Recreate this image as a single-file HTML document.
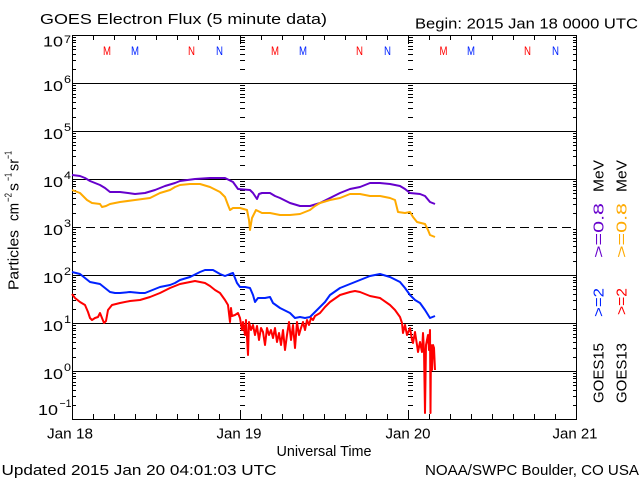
<!DOCTYPE html>
<html><head><meta charset="utf-8"><style>
html,body{margin:0;padding:0;background:#fff;}
svg{display:block;}
text{font-family:"Liberation Sans",sans-serif;fill:#000;}
</style></head><body>
<svg width="640" height="480" viewBox="0 0 640 480" xmlns="http://www.w3.org/2000/svg">
<rect width="640" height="480" fill="#fff"/>

<!-- titles -->
<text x="40" y="24" font-size="15" textLength="287" lengthAdjust="spacingAndGlyphs">GOES Electron Flux (5 minute data)</text>
<text x="415" y="28.5" font-size="15" textLength="223" lengthAdjust="spacingAndGlyphs">Begin: 2015 Jan 18 0000 UTC</text>

<!-- grid -->
<g stroke="#000" stroke-width="1" fill="none">
<path d="M72 83.5H577M72 131.5H577M72 179.5H577M72 275.5H577M72 323.5H577M72 371.5H577"/>
<path d="M72 227.5H577" stroke-dasharray="9 5"/>
<rect x="72.5" y="35.5" width="504" height="384"/>
<!-- minor ticks left, day lines, right -->
<path d="M0 69.5h1M0 60.5h1M0 54.5h1M0 49.5h1M0 46.5h1M0 42.5h1M0 40.5h1M0 37.5h1
M0 117.5h1M0 108.5h1M0 102.5h1M0 97.5h1M0 94.5h1M0 90.5h1M0 88.5h1M0 85.5h1
M0 165.5h1M0 156.5h1M0 150.5h1M0 145.5h1M0 142.5h1M0 138.5h1M0 136.5h1M0 133.5h1
M0 213.5h1M0 204.5h1M0 198.5h1M0 193.5h1M0 190.5h1M0 186.5h1M0 184.5h1M0 181.5h1
M0 261.5h1M0 252.5h1M0 246.5h1M0 241.5h1M0 238.5h1M0 234.5h1M0 232.5h1M0 229.5h1
M0 309.5h1M0 300.5h1M0 294.5h1M0 289.5h1M0 286.5h1M0 282.5h1M0 280.5h1M0 277.5h1
M0 357.5h1M0 348.5h1M0 342.5h1M0 337.5h1M0 334.5h1M0 330.5h1M0 328.5h1M0 325.5h1
M0 405.5h1M0 396.5h1M0 390.5h1M0 385.5h1M0 382.5h1M0 378.5h1M0 376.5h1M0 373.5h1" transform="translate(72,0) scale(4,1)"/>
<path d="M0 69.5h1M0 60.5h1M0 54.5h1M0 49.5h1M0 46.5h1M0 42.5h1M0 40.5h1M0 37.5h1
M0 117.5h1M0 108.5h1M0 102.5h1M0 97.5h1M0 94.5h1M0 90.5h1M0 88.5h1M0 85.5h1
M0 165.5h1M0 156.5h1M0 150.5h1M0 145.5h1M0 142.5h1M0 138.5h1M0 136.5h1M0 133.5h1
M0 213.5h1M0 204.5h1M0 198.5h1M0 193.5h1M0 190.5h1M0 186.5h1M0 184.5h1M0 181.5h1
M0 261.5h1M0 252.5h1M0 246.5h1M0 241.5h1M0 238.5h1M0 234.5h1M0 232.5h1M0 229.5h1
M0 309.5h1M0 300.5h1M0 294.5h1M0 289.5h1M0 286.5h1M0 282.5h1M0 280.5h1M0 277.5h1
M0 357.5h1M0 348.5h1M0 342.5h1M0 337.5h1M0 334.5h1M0 330.5h1M0 328.5h1M0 325.5h1
M0 405.5h1M0 396.5h1M0 390.5h1M0 385.5h1M0 382.5h1M0 378.5h1M0 376.5h1M0 373.5h1" transform="translate(240,0) scale(5,1)"/>
<path d="M0 69.5h1M0 60.5h1M0 54.5h1M0 49.5h1M0 46.5h1M0 42.5h1M0 40.5h1M0 37.5h1
M0 117.5h1M0 108.5h1M0 102.5h1M0 97.5h1M0 94.5h1M0 90.5h1M0 88.5h1M0 85.5h1
M0 165.5h1M0 156.5h1M0 150.5h1M0 145.5h1M0 142.5h1M0 138.5h1M0 136.5h1M0 133.5h1
M0 213.5h1M0 204.5h1M0 198.5h1M0 193.5h1M0 190.5h1M0 186.5h1M0 184.5h1M0 181.5h1
M0 261.5h1M0 252.5h1M0 246.5h1M0 241.5h1M0 238.5h1M0 234.5h1M0 232.5h1M0 229.5h1
M0 309.5h1M0 300.5h1M0 294.5h1M0 289.5h1M0 286.5h1M0 282.5h1M0 280.5h1M0 277.5h1
M0 357.5h1M0 348.5h1M0 342.5h1M0 337.5h1M0 334.5h1M0 330.5h1M0 328.5h1M0 325.5h1
M0 405.5h1M0 396.5h1M0 390.5h1M0 385.5h1M0 382.5h1M0 378.5h1M0 376.5h1M0 373.5h1" transform="translate(408,0) scale(5,1)"/>
<path d="M0 69.5h1M0 60.5h1M0 54.5h1M0 49.5h1M0 46.5h1M0 42.5h1M0 40.5h1M0 37.5h1
M0 117.5h1M0 108.5h1M0 102.5h1M0 97.5h1M0 94.5h1M0 90.5h1M0 88.5h1M0 85.5h1
M0 165.5h1M0 156.5h1M0 150.5h1M0 145.5h1M0 142.5h1M0 138.5h1M0 136.5h1M0 133.5h1
M0 213.5h1M0 204.5h1M0 198.5h1M0 193.5h1M0 190.5h1M0 186.5h1M0 184.5h1M0 181.5h1
M0 261.5h1M0 252.5h1M0 246.5h1M0 241.5h1M0 238.5h1M0 234.5h1M0 232.5h1M0 229.5h1
M0 309.5h1M0 300.5h1M0 294.5h1M0 289.5h1M0 286.5h1M0 282.5h1M0 280.5h1M0 277.5h1
M0 357.5h1M0 348.5h1M0 342.5h1M0 337.5h1M0 334.5h1M0 330.5h1M0 328.5h1M0 325.5h1
M0 405.5h1M0 396.5h1M0 390.5h1M0 385.5h1M0 382.5h1M0 378.5h1M0 376.5h1M0 373.5h1" transform="translate(573,0) scale(4,1)"/>
<!-- major ticks left -->
<path d="M72 35.5h8M72 83.5h8M72 131.5h8M72 179.5h8M72 227.5h8M72 275.5h8M72 323.5h8M72 371.5h8M72 419.5h8"/>
<!-- top / bottom time ticks -->
<path d="M93.5 35v5M114.5 35v5M135.5 35v5M156.5 35v5M177.5 35v5M198.5 35v5M219.5 35v5M240.5 35v9M261.5 35v5M282.5 35v5M303.5 35v5M324.5 35v5M345.5 35v5M366.5 35v5M387.5 35v5M408.5 35v9M429.5 35v5M450.5 35v5M471.5 35v5M492.5 35v5M513.5 35v5M534.5 35v5M555.5 35v5"/>
<path d="M93.5 419v-5M114.5 419v-5M135.5 419v-5M156.5 419v-5M177.5 419v-5M198.5 419v-5M219.5 419v-5M240.5 419v-9M261.5 419v-5M282.5 419v-5M303.5 419v-5M324.5 419v-5M345.5 419v-5M366.5 419v-5M387.5 419v-5M408.5 419v-9M429.5 419v-5M450.5 419v-5M471.5 419v-5M492.5 419v-5M513.5 419v-5M534.5 419v-5M555.5 419v-5"/>
</g>

<!-- M / N markers -->
<g font-size="12" text-anchor="middle">
<text x="107" y="55" style="fill:#ff0000" textLength="8" lengthAdjust="spacingAndGlyphs">M</text>
<text x="135" y="55" style="fill:#0022ff" textLength="8" lengthAdjust="spacingAndGlyphs">M</text>
<text x="191.5" y="55" style="fill:#ff0000" textLength="7" lengthAdjust="spacingAndGlyphs">N</text>
<text x="219.5" y="55" style="fill:#0022ff" textLength="7" lengthAdjust="spacingAndGlyphs">N</text>
<text x="275" y="55" style="fill:#ff0000" textLength="8" lengthAdjust="spacingAndGlyphs">M</text>
<text x="303" y="55" style="fill:#0022ff" textLength="8" lengthAdjust="spacingAndGlyphs">M</text>
<text x="359.5" y="55" style="fill:#ff0000" textLength="7" lengthAdjust="spacingAndGlyphs">N</text>
<text x="387.5" y="55" style="fill:#0022ff" textLength="7" lengthAdjust="spacingAndGlyphs">N</text>
<text x="443.5" y="55" style="fill:#ff0000" textLength="8" lengthAdjust="spacingAndGlyphs">M</text>
<text x="471" y="55" style="fill:#0022ff" textLength="8" lengthAdjust="spacingAndGlyphs">M</text>
<text x="527.5" y="55" style="fill:#ff0000" textLength="7" lengthAdjust="spacingAndGlyphs">N</text>
<text x="555.5" y="55" style="fill:#0022ff" textLength="7" lengthAdjust="spacingAndGlyphs">N</text>
</g>

<!-- data -->
<g fill="none" stroke-width="2" stroke-linejoin="round">
<polyline stroke="#6600cc" points="72,175 80,176 85,178 90,181 100,185 105,188 110,192 120,192 128,193 135,194 145,193 155,190 165,186 175,183 180,181 195,179 210,178 225,178 233,182 238,189 250,190 253,193 257,199 259,194 262,193 270,193 275,196 280,198 290,203 300,206 310,206 320,203 330,198 340,193 350,189 360,187 370,183 380,183 390,184 400,186 405,189 410,193 420,194 425,196 430,202 435,204"/>
<polyline stroke="#ffaa00" points="72,190 80,193 87,200 92,203 100,204 102,207 106,206 110,204 115,203 120,202 135,200 150,198 160,193 170,190 175,187 180,185 190,184 200,184 210,187 220,192 225,197 228,205 230,210 233,208 240,208 247,210 249,220 250,230 252,218 256,210 258,211 262,213 270,213 280,215 290,215 300,214 305,212 310,210 315,206 320,203 330,200 340,198 350,194 360,194 370,196 380,196 390,198 395,200 398,212 405,213 410,212 413,217 417,222 425,224 428,230 430,235 435,237"/>
<polyline stroke="#0022ff" points="72,272 80,274 85,278 90,282 100,284 105,288 110,292 115,293 120,293 130,292 140,293 145,293 150,291 160,287 170,285 175,283 180,280 190,277 200,272 205,270 213,270 220,274 225,276 230,274 233,273 237,283 240,287 245,287 250,288 253,295 255,302 258,298 265,298 270,297 273,303 280,308 290,313 295,318 300,317 305,318 310,317 320,307 325,302 330,295 340,288 350,284 360,280 370,276 380,274 390,277 400,282 405,288 410,295 415,300 420,303 425,310 430,318 435,316"/>
<polyline stroke="#ff0000" points="72,294 75,298 80,302 85,305 88,312 90,318 92,320 95,318 98,317 100,313 102,318 104,323 106,321 108,310 112,305 120,303 130,301 140,300 150,297 160,293 170,288 180,284 190,282 195,281 205,283 210,286 215,290 220,293 225,300 228,305 230,322 231,308 232,316 235,315 238,313 240,318 242,330 243,322 245,335 246,320 248,355 249,322 251,330 253,325 255,335 257,326 259,340 261,328 263,332 265,345 267,328 269,335 271,330 273,338 275,328 277,342 279,333 281,345 283,330 285,350 287,335 289,322 291,340 293,325 295,348 297,322 299,335 301,328 303,322 305,330 307,320 309,325 311,318 313,320 315,316 320,313 325,307 330,302 340,295 350,292 355,291 360,292 370,296 380,298 390,305 395,310 400,317 402,323 403,333 405,325 407,335 410,328 412,340 413,343 415,332 417,345 418,352 420,342 422,352 423,333 424,350 425,413 426,345 428,335 429,350 430,330 430.5,413 431,345 432,370 433,345 434,348 435,370"/>
</g>

<!-- y tick labels -->
<g font-size="15">
<text x="43" y="46.5" textLength="20" lengthAdjust="spacingAndGlyphs">10</text>
<text x="43" y="91" textLength="20" lengthAdjust="spacingAndGlyphs">10</text>
<text x="43" y="139" textLength="20" lengthAdjust="spacingAndGlyphs">10</text>
<text x="43" y="187" textLength="20" lengthAdjust="spacingAndGlyphs">10</text>
<text x="43" y="235" textLength="20" lengthAdjust="spacingAndGlyphs">10</text>
<text x="43" y="283" textLength="20" lengthAdjust="spacingAndGlyphs">10</text>
<text x="43" y="331" textLength="20" lengthAdjust="spacingAndGlyphs">10</text>
<text x="43" y="379" textLength="20" lengthAdjust="spacingAndGlyphs">10</text>
<text x="38" y="415" textLength="20" lengthAdjust="spacingAndGlyphs">10</text>
</g>
<g font-size="11">
<text x="64" y="43" textLength="7" lengthAdjust="spacingAndGlyphs">7</text>
<text x="64" y="83" textLength="7" lengthAdjust="spacingAndGlyphs">6</text>
<text x="64" y="131" textLength="7" lengthAdjust="spacingAndGlyphs">5</text>
<text x="64" y="179" textLength="7" lengthAdjust="spacingAndGlyphs">4</text>
<text x="64" y="227" textLength="7" lengthAdjust="spacingAndGlyphs">3</text>
<text x="64" y="275" textLength="7" lengthAdjust="spacingAndGlyphs">2</text>
<text x="64" y="323" textLength="7" lengthAdjust="spacingAndGlyphs">1</text>
<text x="64" y="371" textLength="7" lengthAdjust="spacingAndGlyphs">0</text>
<text x="59.5" y="407" textLength="12" lengthAdjust="spacingAndGlyphs">−1</text>
</g>

<!-- y axis title -->
<g transform="translate(18.5,290) rotate(-90)">
<text x="0" y="0" font-size="15" textLength="60" lengthAdjust="spacingAndGlyphs">Particles</text>
<text x="69" y="0" font-size="15" textLength="18" lengthAdjust="spacingAndGlyphs">cm</text>
<text x="88" y="-7" font-size="10" textLength="9" lengthAdjust="spacingAndGlyphs">−2</text>
<text x="99" y="0" font-size="15" textLength="8" lengthAdjust="spacingAndGlyphs">s</text>
<text x="109" y="-7" font-size="10" textLength="8" lengthAdjust="spacingAndGlyphs">−1</text>
<text x="119" y="0" font-size="15" textLength="12" lengthAdjust="spacingAndGlyphs">sr</text>
<text x="131" y="-7" font-size="10" textLength="8" lengthAdjust="spacingAndGlyphs">−1</text>
</g>

<!-- right legend -->
<g transform="translate(603.3,403) rotate(-90)" font-size="15">
<text x="0" y="0" textLength="60" lengthAdjust="spacingAndGlyphs">GOES15</text>
<text x="86" y="0" style="fill:#0022ff" textLength="29" lengthAdjust="spacingAndGlyphs">&gt;=2</text>
<text x="145" y="0" style="fill:#6600cc" textLength="55" lengthAdjust="spacingAndGlyphs">&gt;=0.8</text>
<text x="211" y="0" textLength="32" lengthAdjust="spacingAndGlyphs">MeV</text>
</g>
<g transform="translate(626.7,403) rotate(-90)" font-size="15">
<text x="0" y="0" textLength="60" lengthAdjust="spacingAndGlyphs">GOES13</text>
<text x="88" y="0" style="fill:#ff0000" textLength="27" lengthAdjust="spacingAndGlyphs">&gt;=2</text>
<text x="145" y="0" style="fill:#ffaa00" textLength="55" lengthAdjust="spacingAndGlyphs">&gt;=0.8</text>
<text x="211" y="0" textLength="32" lengthAdjust="spacingAndGlyphs">MeV</text>
</g>

<!-- x labels -->
<g font-size="15" text-anchor="middle">
<text x="70" y="438.5" textLength="46" lengthAdjust="spacingAndGlyphs">Jan 18</text>
<text x="239" y="438.5" textLength="45" lengthAdjust="spacingAndGlyphs">Jan 19</text>
<text x="408" y="438.5" textLength="45" lengthAdjust="spacingAndGlyphs">Jan 20</text>
<text x="575" y="438.5" textLength="45" lengthAdjust="spacingAndGlyphs">Jan 21</text>
<text x="324" y="456" textLength="95" lengthAdjust="spacingAndGlyphs">Universal Time</text>
</g>
<text x="1.5" y="475" font-size="15" textLength="275" lengthAdjust="spacingAndGlyphs">Updated 2015 Jan 20 04:01:03 UTC</text>
<text x="425" y="475" font-size="15" textLength="214" lengthAdjust="spacingAndGlyphs">NOAA/SWPC Boulder, CO USA</text>
</svg>
</body></html>
